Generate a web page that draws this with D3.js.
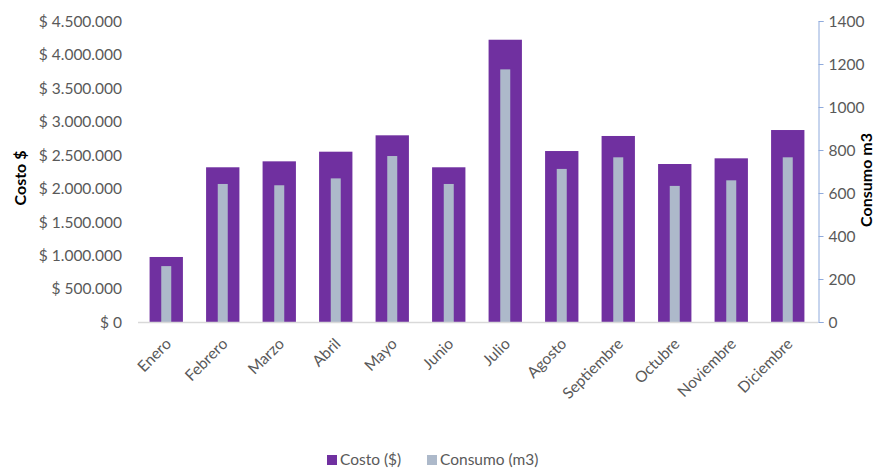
<!DOCTYPE html>
<html><head><meta charset="utf-8">
<script src="https://cdn.jsdelivr.net/npm/d3@7"></script>
<style>body{margin:0;background:#fff}svg{display:block}</style>
</head><body><svg id="c" width="877" height="468"></svg>
<script>
const categories = ["Enero","Febrero","Marzo","Abril","Mayo","Junio","Julio","Agosto","Septiembre","Octubre","Noviembre","Diciembre"];
const costo = [972000,2313000,2402000,2546000,2791000,2313000,4220000,2556000,2781000,2362000,2447000,2870000];
const consumo = [260,642,636,668,772,642,1175,712,766,633,659,766];
const leftTicks = [0,500000,1000000,1500000,2000000,2500000,3000000,3500000,4000000,4500000];
const rightTicks = [0,200,400,600,800,1000,1200,1400];

const svg = d3.select("#c");
const font = "Lato, 'Open Sans', sans-serif";
const fs = 15.5;
const x0 = 138, x1 = 816, yTop = 21, yBot = 322;
const x = d3.scaleBand().domain(categories).range([x0, x1]).paddingInner(0.41).paddingOuter(0.205);
const yL = d3.scaleLinear().domain([0,4500000]).range([yBot, yTop]);
const yR = d3.scaleLinear().domain([0,1400]).range([yBot, yTop]);
const fmt = v => "$ " + d3.format(",")(v).replace(/,/g, ".");

// bars
svg.append("g").selectAll("rect").data(categories).join("rect")
  .attr("x", d => x(d)).attr("width", x.bandwidth())
  .attr("y", (d,i) => yL(costo[i])).attr("height", (d,i) => yBot - yL(costo[i]))
  .attr("fill", "#7030A0");
const gw = 10;
svg.append("g").selectAll("rect").data(categories).join("rect")
  .attr("x", d => x(d) + x.bandwidth()/2 - gw/2).attr("width", gw)
  .attr("y", (d,i) => yR(consumo[i])).attr("height", (d,i) => yBot - yR(consumo[i]))
  .attr("fill", "#ADB9CA");

// baseline
svg.append("line").attr("x1", x0).attr("x2", 818).attr("y1", yBot+0.5).attr("y2", yBot+0.5)
  .attr("stroke", "#D9D9D9").attr("stroke-width", 1.5);

// left axis
const gL = svg.append("g").attr("transform", `translate(122,0)`)
  .call(d3.axisLeft(yL).tickValues(leftTicks).tickFormat(fmt).tickSize(0).tickPadding(0));
gL.select(".domain").remove();
gL.selectAll("text").attr("font-family", font).attr("font-size", fs).attr("fill", "#595959").attr("dy", "0.35em");

// right axis
const gR = svg.append("g").attr("transform", `translate(818.5,0)`)
  .call(d3.axisRight(yR).tickValues(rightTicks).tickFormat(d3.format("d")).tickSize(5).tickSizeOuter(5).tickPadding(5));
gR.select(".domain").attr("stroke", "#8FAADC");
gR.selectAll(".tick line").attr("stroke", "#8FAADC");
gR.selectAll("text").attr("font-family", font).attr("font-size", fs).attr("fill", "#595959").attr("dy", "0.35em");

// x labels
svg.append("g").selectAll("text").data(categories).join("text")
  .attr("transform", d => `translate(${x(d)+x.bandwidth()/2+2},${yBot+19}) rotate(-45)`)
  .attr("text-anchor", "end").attr("dy", "0.35em")
  .attr("font-family", font).attr("font-size", fs).attr("fill", "#595959")
  .text(d => d);

// axis titles
svg.append("text").attr("transform", "translate(26,178) rotate(-90)")
  .attr("text-anchor", "middle").attr("font-family", font).attr("font-weight", "bold")
  .attr("font-size", 16).attr("fill", "#000").text("Costo $");
svg.append("text").attr("transform", "translate(872,180) rotate(-90)")
  .attr("text-anchor", "middle").attr("font-family", font).attr("font-weight", "bold")
  .attr("font-size", 16).attr("fill", "#000").text("Consumo m3");

// legend
const legend = [{name:"Costo ($)", color:"#7030A0", x:327},{name:"Consumo (m3)", color:"#ADB9CA", x:427}];
const lg = svg.append("g").selectAll("g").data(legend).join("g")
  .attr("transform", d => `translate(${d.x},455)`);
lg.append("rect").attr("width", 10).attr("height", 10).attr("fill", d => d.color);
lg.append("text").attr("x", 13).attr("y", 5).attr("dy", "0.35em")
  .attr("font-family", font).attr("font-size", fs).attr("fill", "#595959").text(d => d.name);
</script></body></html>
